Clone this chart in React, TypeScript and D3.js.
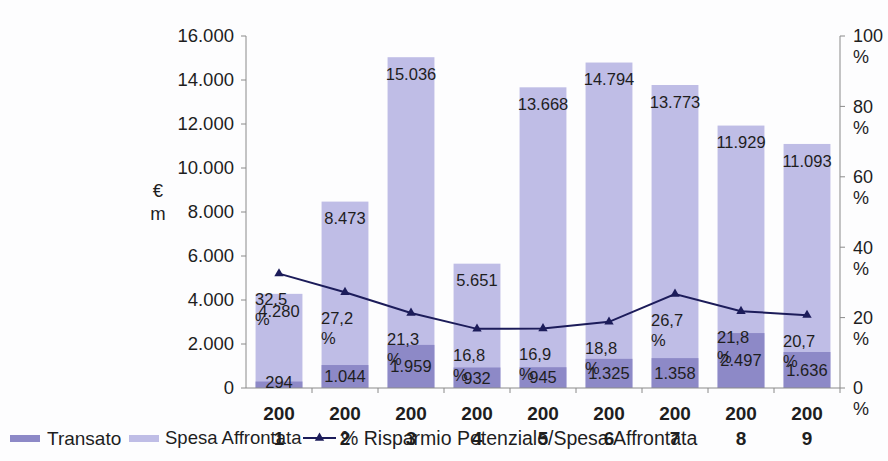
import React from "react";
import * as d3 from "d3";

const years = ["2001", "2002", "2003", "2004", "2005", "2006", "2007", "2008", "2009"];
const spesa = [4280, 8473, 15036, 5651, 13668, 14794, 13773, 11929, 11093];
const transato = [294, 1044, 1959, 932, 945, 1325, 1358, 2497, 1636];
const risparmio = [32.5, 27.2, 21.3, 16.8, 16.9, 18.8, 26.7, 21.8, 20.7];
const leftTicks = [0, 2000, 4000, 6000, 8000, 10000, 12000, 14000, 16000];
const rightTicks = [0, 20, 40, 60, 80, 100];

const W = 888, H = 461;
const M = { left: 246, right: 840, top: 36, bottom: 388 };
const FONT = "'Liberation Sans', Arial, Helvetica, sans-serif";
const C_SPESA = "#bfbde6";
const C_TRANS = "#8d89c7";
const C_LINE = "#1c1c5a";
const C_AXIS = "#8a8a8a";
const C_TEXT = "#1e1e1e";

const fmt = (v: number) => d3.format(",")(v).replace(/,/g, ".");
const fmtPct = (v: number) => d3.format(".1f")(v).replace(".", ",");

export default function App() {
  const x = d3.scaleBand<string>().domain(years).range([M.left, M.right]).paddingInner(0.29).paddingOuter(0.145);
  const yL = d3.scaleLinear().domain([0, 16000]).range([M.bottom, M.top]);
  const yR = d3.scaleLinear().domain([0, 100]).range([M.bottom, M.top]);
  const bw = x.bandwidth();
  const cx = (y: string) => (x(y) as number) + bw / 2;
  const line = d3.line<number>().x((_, i) => cx(years[i])).y((d) => yR(d));
  const step = x.step();
  const tri = d3.symbol().type(d3.symbolTriangle).size(38)();

  return (
    <svg width={W} height={H} viewBox={`0 0 ${W} ${H}`} style={{ position: "absolute", left: 0, top: 0, background: "#fff" }} fontFamily={FONT}>
      <rect x={0} y={0} width={W} height={H} fill="#fdfdfe" />
      {years.map((y, i) => (
        <rect key={"s" + y} x={x(y)} y={yL(spesa[i])} width={bw} height={yL(0) - yL(spesa[i])} fill={C_SPESA} />
      ))}
      {years.map((y, i) => (
        <rect key={"t" + y} x={x(y)} y={yL(transato[i])} width={bw} height={yL(0) - yL(transato[i])} fill={C_TRANS} />
      ))}
      <line x1={M.left} x2={M.left} y1={M.top} y2={M.bottom} stroke={C_AXIS} />
      <line x1={M.right} x2={M.right} y1={M.top} y2={M.bottom} stroke={C_AXIS} />
      <line x1={M.left} x2={M.right} y1={M.bottom} y2={M.bottom} stroke={C_AXIS} />
      {leftTicks.map((t) => (
        <g key={"l" + t}>
          <line x1={M.left - 5} x2={M.left} y1={yL(t)} y2={yL(t)} stroke={C_AXIS} />
          <text x={M.left - 12} y={yL(t)} dy="0.35em" textAnchor="end" fontSize={18.5} fill={C_TEXT}>{fmt(t)}</text>
        </g>
      ))}
      {rightTicks.map((t) => (
        <g key={"r" + t}>
          <line x1={M.right} x2={M.right + 5} y1={yR(t)} y2={yR(t)} stroke={C_AXIS} />
          <text x={M.right + 13} y={yR(t)} dy="0.35em" fontSize={18} fill={C_TEXT}>{t}</text>
          <text x={M.right + 13} y={yR(t) + 21} dy="0.35em" fontSize={18} fill={C_TEXT}>%</text>
        </g>
      ))}
      {years.map((y, i) => (
        <line key={"xt" + y} x1={M.left + step * (i + 1)} x2={M.left + step * (i + 1)} y1={M.bottom} y2={M.bottom + 5} stroke={C_AXIS} />
      ))}
      <text x={158} y={197} textAnchor="middle" fontSize={18.5} fill={C_TEXT}>€</text>
      <text x={158} y={220} textAnchor="middle" fontSize={18.5} fill={C_TEXT}>m</text>
      {years.map((y) => (
        <g key={"xl" + y}>
          <text x={cx(y)} y={413} dy="0.35em" textAnchor="middle" fontSize={19} fontWeight="bold" fill={C_TEXT}>{y.slice(0, 3)}</text>
          <text x={cx(y)} y={438} dy="0.35em" textAnchor="middle" fontSize={19} fontWeight="bold" fill={C_TEXT}>{y.slice(3)}</text>
        </g>
      ))}
      {years.map((y, i) => (
        <text key={"sl" + y} x={cx(y)} y={yL(spesa[i]) + 17} dy="0.35em" textAnchor="middle" fontSize={16.5} fill={C_TEXT}>{fmt(spesa[i])}</text>
      ))}
      {years.map((y, i) => (
        <text key={"tl" + y} x={cx(y)} y={Math.min(yL(transato[i] / 2), M.bottom - 6)} dy="0.35em" textAnchor="middle" fontSize={16.5} fill={C_TEXT}>{fmt(transato[i])}</text>
      ))}
      <path d={line(risparmio) as string} fill="none" stroke={C_LINE} strokeWidth={2} />
      {risparmio.map((v, i) => (
        <path key={"m" + i} d={tri as string} transform={`translate(${cx(years[i])},${yR(v)})`} fill={C_LINE} />
      ))}
      {risparmio.map((v, i) => (
        <g key={"pl" + i}>
          <text x={cx(years[i]) - 24} y={yR(v) + 26} dy="0.35em" fontSize={16.5} fill={C_TEXT}>{fmtPct(v)}</text>
          <text x={cx(years[i]) - 24} y={yR(v) + 46} dy="0.35em" fontSize={16.5} fill={C_TEXT}>%</text>
        </g>
      ))}
      <rect x={10} y={435} width={30} height={7} fill={C_TRANS} />
      <text x={47} y={438} dy="0.35em" fontSize={19} fill={C_TEXT}>Transato</text>
      <rect x={129} y={435} width={30} height={7} fill={C_SPESA} />
      <text x={165} y={438} dy="0.35em" fontSize={18.5} fill={C_TEXT}>Spesa Affrontata</text>
      <line x1={303} x2={336} y1={438} y2={438} stroke={C_LINE} strokeWidth={2} />
      <path d={tri as string} transform="translate(319.5,438)" fill={C_LINE} />
      <text x={341} y={438} dy="0.35em" fontSize={19.5} fill={C_TEXT}>% Risparmio Potenziale/Spesa Affrontata</text>
    </svg>
  );
}
